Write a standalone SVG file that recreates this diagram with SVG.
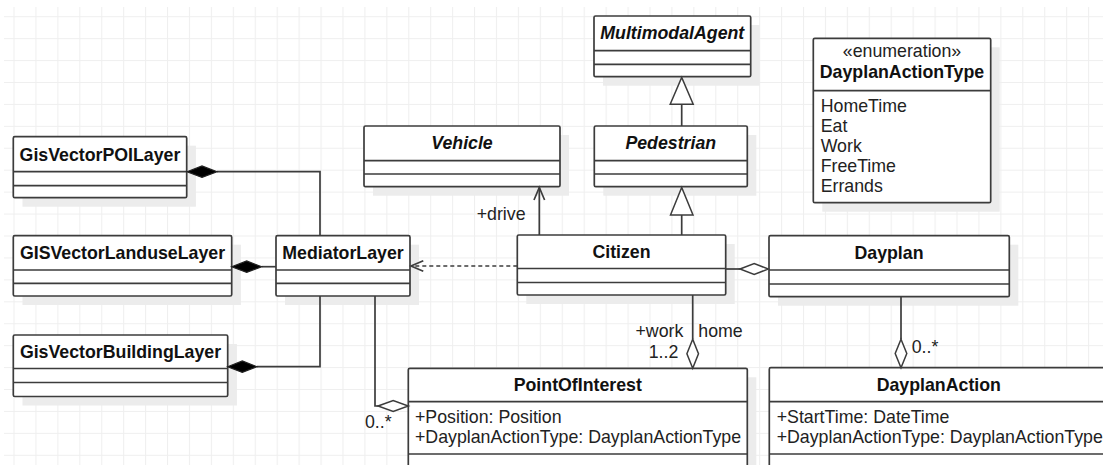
<svg xmlns="http://www.w3.org/2000/svg" width="1103" height="465" viewBox="0 0 1103 465">
<style>
.box{fill:#fff;stroke:#3c3c3c;stroke-width:1.7}
.sh{fill:#ececec}
.div{stroke:#3c3c3c;stroke-width:1.7;fill:none}
.ln{stroke:#3c3c3c;stroke-width:1.7;fill:none}
.t{font-family:"Liberation Sans",Arial,sans-serif;font-size:17.75px;fill:#222}
.b{font-weight:bold;fill:#111;text-anchor:middle}
.i{font-style:italic}
.m{text-anchor:middle}
.e{text-anchor:end}
.fd{fill:#000;stroke:#222;stroke-width:1.2}
.hd{fill:#fff;stroke:#3c3c3c;stroke-width:1.5}
</style>
<defs>
<pattern id="grid" patternUnits="userSpaceOnUse" x="13.5" y="16.2" width="21.93" height="21.93">
<path d="M0.5,0 V21.93 M0,0.5 H21.93" stroke="#efefef" stroke-width="1.2" fill="none"/>
</pattern>
</defs>
<rect width="1103" height="465" fill="#fff"/>
<rect x="4" y="7" width="1099" height="458" fill="url(#grid)"/>

<g id="GisVectorPOILayer">
<rect class="sh" x="22.5" y="145.7" width="173.4" height="61"/>
<rect class="box" x="13.3" y="136.7" width="173.4" height="61" rx="1.5"/>
<path class="div" d="M13.3,171.7 H186.7 M13.3,185.7 H186.7"/>
<text class="t b" x="100" y="160.7">GisVectorPOILayer</text>
</g>

<g id="GISVectorLanduseLayer">
<rect class="sh" x="22.5" y="244.7" width="218.4" height="60.3"/>
<rect class="box" x="13.3" y="235.7" width="218.4" height="60.3" rx="1.5"/>
<path class="div" d="M13.3,270 H231.7 M13.3,283.3 H231.7"/>
<text class="t b" x="122.5" y="259.3">GISVectorLanduseLayer</text>
</g>

<g id="GisVectorBuildingLayer">
<rect class="sh" x="22.5" y="344" width="214.4" height="61.5"/>
<rect class="box" x="13.3" y="335" width="214.4" height="61.5" rx="1.5"/>
<path class="div" d="M13.3,368.5 H227.7 M13.3,382.5 H227.7"/>
<text class="t b" x="120.5" y="358">GisVectorBuildingLayer</text>
</g>

<g id="MediatorLayer">
<rect class="sh" x="285" y="244.7" width="134" height="60.3"/>
<rect class="box" x="276" y="235.7" width="134" height="60.3" rx="1.5"/>
<path class="div" d="M276,270 H410 M276,283.3 H410"/>
<text class="t b" x="343" y="259.3">MediatorLayer</text>
</g>

<g id="Vehicle">
<rect class="sh" x="373" y="135" width="196" height="60.7"/>
<rect class="box" x="364" y="126" width="196" height="60.7" rx="1.5"/>
<path class="div" d="M364,160.7 H560 M364,174 H560"/>
<text class="t b i" x="462" y="149.3">Vehicle</text>
</g>

<g id="Pedestrian">
<rect class="sh" x="603.3" y="135" width="153" height="60.7"/>
<rect class="box" x="594.3" y="126" width="153" height="60.7" rx="1.5"/>
<path class="div" d="M594.3,160.7 H747.3 M594.3,174 H747.3"/>
<text class="t b i" x="670.8" y="149.3">Pedestrian</text>
</g>

<g id="MultimodalAgent">
<rect class="sh" x="603" y="25" width="156.7" height="60.7"/>
<rect class="box" x="594" y="16" width="156.7" height="60.7" rx="1.5"/>
<path class="div" d="M594,50.7 H750.7 M594,64.3 H750.7"/>
<text class="t b i" x="672.3" y="38.6">MultimodalAgent</text>
</g>

<g id="DayplanActionType">
<rect class="sh" x="822.3" y="47.3" width="177.4" height="164.4"/>
<rect class="box" x="813.3" y="38.3" width="177.4" height="164.4" rx="1.5"/>
<path class="div" d="M813.3,90.7 H990.7"/>
<text class="t m" x="902" y="57.3">«enumeration»</text>
<text class="t b" x="902" y="78.3">DayplanActionType</text>
<text class="t" x="820.7" y="111.5">HomeTime</text>
<text class="t" x="820.7" y="131.5">Eat</text>
<text class="t" x="820.7" y="151.5">Work</text>
<text class="t" x="820.7" y="171.5">FreeTime</text>
<text class="t" x="820.7" y="191.5">Errands</text>
</g>

<g id="Citizen">
<rect class="sh" x="526.3" y="244" width="208.4" height="60"/>
<rect class="box" x="517.3" y="235" width="208.4" height="60" rx="1.5"/>
<path class="div" d="M517.3,268.5 H725.7 M517.3,282.5 H725.7"/>
<text class="t b" x="621.5" y="257.7">Citizen</text>
</g>

<g id="Dayplan">
<rect class="sh" x="778" y="244.7" width="240.3" height="61"/>
<rect class="box" x="769" y="235.7" width="240.3" height="61" rx="1.5"/>
<path class="div" d="M769,270 H1009.3 M769,284 H1009.3"/>
<text class="t b" x="889" y="259.3">Dayplan</text>
</g>

<g id="PointOfInterest">
<rect class="sh" x="417.3" y="377.3" width="339" height="110"/>
<rect class="box" x="408.3" y="368.3" width="339" height="110" rx="1.5"/>
<path class="div" d="M408.3,401.7 H747.3 M408.3,454 H747.3"/>
<text class="t b" x="577.8" y="391">PointOfInterest</text>
<text class="t" x="415" y="422.7">+Position: Position</text>
<text class="t" x="415" y="442.7">+DayplanActionType: DayplanActionType</text>
</g>

<g id="DayplanAction">
<rect class="sh" x="778.3" y="376.7" width="340" height="110"/>
<rect class="box" x="769.3" y="367.7" width="340" height="110" rx="1.5"/>
<path class="div" d="M769.3,401.7 H1109.3 M769.3,454 H1109.3"/>
<text class="t b" x="938.8" y="391">DayplanAction</text>
<text class="t" x="776.7" y="422.7">+StartTime: DateTime</text>
<text class="t" x="776.7" y="442.7">+DayplanActionType: DayplanActionType</text>
</g>

<g id="connectors">
<path class="ln" d="M217,171.7 H320 V235.7"/>
<polygon class="fd" points="187,171.7 202,166 217,171.7 202,177.4"/>
<path class="ln" d="M261.7,266.7 H276"/>
<polygon class="fd" points="231.7,266.7 246.7,261 261.7,266.7 246.7,272.4"/>
<path class="ln" d="M257,366.7 H320 V296"/>
<polygon class="fd" points="227.7,366.7 242.3,361 257,366.7 242.3,372.4"/>
<path class="ln" d="M375,296 V406 H378"/>
<polygon class="hd" points="378,406 393.2,400.5 408.3,406 393.2,411.5"/>
<text class="t" x="365" y="428.3">0..*</text>
<path class="ln" d="M539.3,235 V187.5"/>
<path class="ln" d="M534,200 L539.3,187.5 L544.6,200"/>
<text class="t" x="476.7" y="220">+drive</text>
<path class="ln" d="M681.7,235 V215"/>
<polygon class="hd" points="670.5,215 681.7,187.5 693,215"/>
<path class="ln" d="M681.7,126 V104.3"/>
<polygon class="hd" points="670.2,104.3 681.7,77.5 693.2,104.3"/>
<path class="ln" d="M517.3,266 H411" stroke-dasharray="4 3"/>
<path class="ln" d="M423.3,260.8 L411,266 L423.3,271.2"/>
<path class="ln" d="M725.7,269 H740"/>
<polygon class="hd" points="740,269 754.2,263.5 768.3,269 754.2,274.5"/>
<path class="ln" d="M692.7,295 V339.3"/>
<polygon class="hd" points="692.7,339.3 698.5,353.8 692.7,368.3 686.9,353.8"/>
<text class="t e" x="683.3" y="337.3">+work</text>
<text class="t" x="698.3" y="337.3">home</text>
<text class="t e" x="678.3" y="358.3">1..2</text>
<path class="ln" d="M901,296.7 V339.3"/>
<polygon class="hd" points="901,339.3 906.8,353.5 901,367.7 895.2,353.5"/>
<text class="t" x="911.7" y="353.3">0..*</text>
</g>
</svg>
